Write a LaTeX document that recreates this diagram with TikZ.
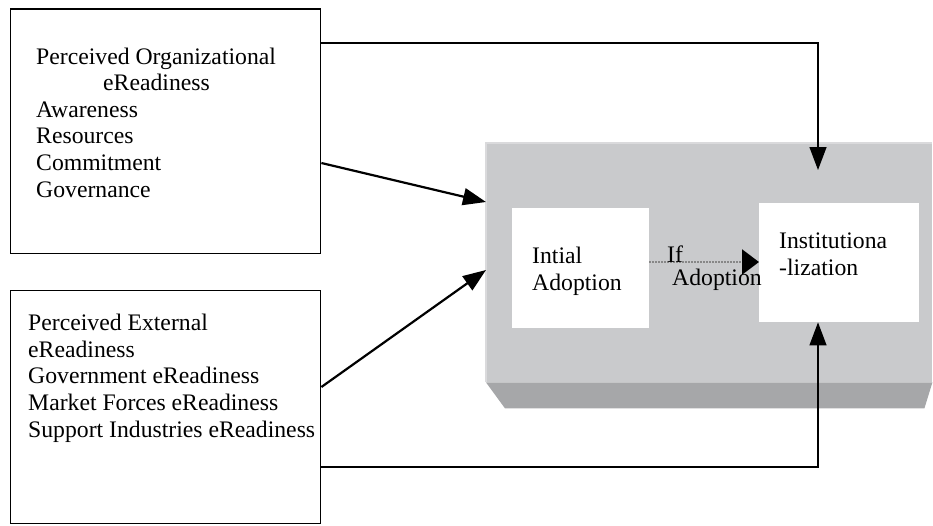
\documentclass[tikz,border=0pt]{standalone}
\usepackage{fontspec}
\setmainfont{Liberation Serif}
\usetikzlibrary{arrows.meta,calc}
\definecolor{face}{RGB}{201,202,204}
\definecolor{bevel}{RGB}{166,167,169}
\definecolor{rim}{RGB}{218,218,220}
\definecolor{dotline}{RGB}{135,135,135}
\begin{document}
\begin{tikzpicture}[x=1pt,y=-1pt,
  txt/.style={font=\fontsize{23.7}{26.6}\selectfont, inner sep=0pt, align=left, anchor=base west},
  frame/.style={draw=black, line width=1.4pt, anchor=north west, inner sep=0pt},
  wbox/.style={fill=white, draw=none, anchor=north west, inner sep=0pt},
  tip/.style={-{Triangle[length=23pt,width=17pt,black]}},
  conn/.style={line width=2.2pt, tip},
  thin/.style={line width=1.3pt, tip},
  ifline/.style={draw=dotline, line width=2.2pt, dash pattern=on 1.5pt off 1.5pt, -{Triangle[length=17pt,width=25pt,black]}}]
\useasboundingbox (0,0) rectangle (933,525);
% left boxes
\node[frame, minimum width=310pt, minimum height=244pt] (orgbox) at (10,9) {};
\draw[line width=2.6pt] (orgbox.north west) -- (orgbox.north east);
\node[frame, minimum width=310pt, minimum height=233pt] (extbox) at (10,290) {};
% stage container with bevel
\node[fill=face, anchor=north west, inner sep=0pt, minimum width=446pt, minimum height=239pt] (stage) at (486,143) {};
\fill[bevel] (stage.south west) -- (stage.south east) -- ++(-8,26) -- ($(stage.south west)+(19,26)$) -- cycle;
\draw[rim, line width=2pt] (stage.south west) -- (stage.north west) -- (stage.north east);
% inner boxes
\node[wbox, minimum width=137pt, minimum height=120pt] (init) at (512,208) {};
\node[wbox, minimum width=160pt, minimum height=119pt] (inst) at (759,203) {};
% texts (base anchor = baseline of last line)
\node[txt] (orgtext) at (36,197) {Perceived Organizational\\\hspace*{67pt}eReadiness\\Awareness\\Resources\\Commitment\\Governance};
\node[txt] (exttext) at (28,437) {Perceived External\\eReadiness\\Government eReadiness\\Market Forces eReadiness\\Support Industries eReadiness};
\node[txt] (inittext) at (532,290) {Intial\\Adoption};
\node[txt] (insttext) at (779,275) {Institutiona\\-lization};
% connectors
\coordinate (topend) at (818,170);
\draw[thin] (orgbox.east |- 0,43) -| (topend);
\draw[thin] (extbox.east |- 0,467) -| (inst.south -| topend);
\draw[conn] (orgbox.east |- 0,163) -- (stage.west |- 0,202);
\draw[conn] (extbox.east |- 0,387) -- (stage.west |- 0,270);
\draw[ifline] (init.east |- 0,262) -- (inst.west |- 0,262);
\node[txt] (iflabel) at (667,262) {If};
\node[txt] (adlabel) at (672,285) {Adoption};
\end{tikzpicture}
\end{document}
